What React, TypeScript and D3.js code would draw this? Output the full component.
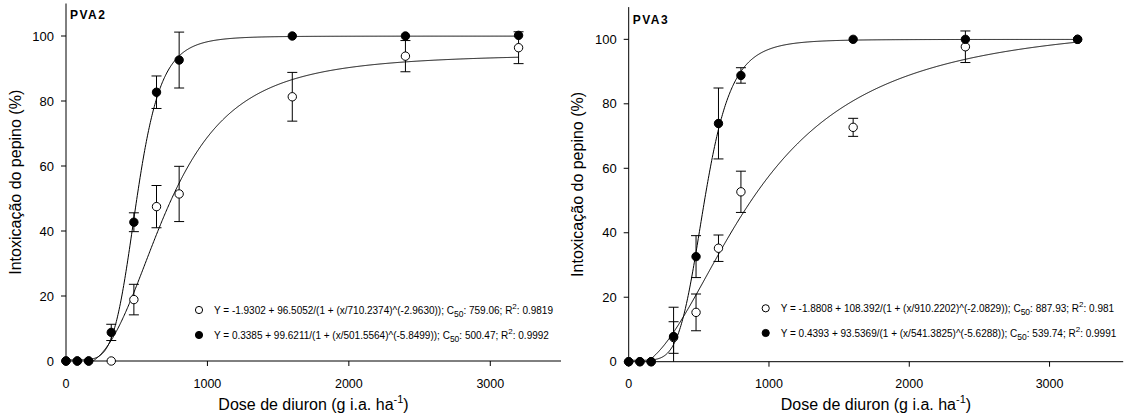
import React from "react";
import * as d3 from "d3";

// Doses of diuron (g i.a. ha-1)
const doses = [0, 80, 160, 320, 480, 640, 800, 1600, 2400, 3200];

// PVA2: open and filled series (mean ± error)
const pva2OpenMean = [0, 0, 0, 0, 18.9, 47.5, 51.4, 81.3, 93.8, 96.4];
const pva2OpenErr = [0, 0, 0, 0, 4.7, 6.5, 8.5, 7.5, 4.8, 4.9];
const pva2FilledMean = [0, 0, 0, 8.8, 42.7, 82.7, 92.6, 100, 100, 100.2];
const pva2FilledErr = [0, 0, 0, 2.5, 2.9, 5.0, 8.6, 0, 0, 0];

// PVA3: open and filled series (mean ± error)
const pva3OpenMean = [0, 0, 0, 7.5, 15.3, 35.2, 52.7, 72.7, 97.7, 100];
const pva3OpenErr = [0, 0, 0, 4.9, 5.7, 4.1, 6.4, 2.8, 4.9, 0];
const pva3FilledMean = [0, 0, 0, 7.8, 32.6, 73.9, 88.8, 100, 100, 100];
const pva3FilledErr = [0, 0, 0, 9.1, 6.5, 11.0, 2.4, 0, 0, 0];

// Four-parameter logistic fits: [y0, a, x0, b]
const pva2OpenFit = [-1.9302, 96.5052, 710.2374, -2.963];
const pva2FilledFit = [0.3385, 99.6211, 501.5564, -5.8499];
const pva3OpenFit = [-1.8808, 108.392, 910.2202, -2.0829];
const pva3FilledFit = [0.4393, 99.5369, 541.3825, -5.6288];

// Legend text: [equation, C50, R2]
const pva2OpenLegend = ["Y = -1.9302 + 96.5052/(1 + (x/710.2374)^(-2.9630))", "759.06", "0.9819"];
const pva2FilledLegend = ["Y = 0.3385 + 99.6211/(1 + (x/501.5564)^(-5.8499))", "500.47", "0.9992"];
const pva3OpenLegend = ["Y = -1.8808 + 108.392/(1 + (x/910.2202)^(-2.0829))", "887.93", "0.981"];
const pva3FilledLegend = ["Y = 0.4393 + 93.5369/(1 + (x/541.3825)^(-5.6288))", "539.74", "0.9991"];

const xTicks = [0, 1000, 2000, 3000];
const yTicks = [0, 20, 40, 60, 80, 100];

const FONT = "'Liberation Sans', Arial, Helvetica, sans-serif";

type Layout = {
  id: string;
  xLeft: number;
  xRight: number;
  xMax: number;
  yZero: number;
  yTop: number;
  yTitleX: number;
  labelY: number;
  legendX: number;
  legendY: number[];
};

type PanelProps = {
  layout: Layout;
  label: string;
  openMean: number[];
  openErr: number[];
  filledMean: number[];
  filledErr: number[];
  openFit: number[];
  filledFit: number[];
  openLegend: string[];
  filledLegend: string[];
};

const logistic = (p: number[]) => (x: number) => p[0] + p[1] / (1 + Math.pow(x / p[2], p[3]));

function LegendRow({ x, y, filled, text }: { x: number; y: number; filled: boolean; text: string[] }) {
  return (
    <g>
      <circle cx={x} cy={y} r={3.6} fill={filled ? "#000" : "#fff"} stroke="#000" strokeWidth={1} />
      <text x={x + 15} y={y + 3.6} fontSize={10} fontFamily={FONT} fill="#000">
        <tspan>{text[0]}; C</tspan>
        <tspan fontSize={8.5} dy={3}>50</tspan>
        <tspan dy={-3}>: {text[1]}; R</tspan>
        <tspan fontSize={8} dy={-5}>2</tspan>
        <tspan dy={5}>: {text[2]}</tspan>
      </text>
    </g>
  );
}

function Panel(props: PanelProps) {
  const { layout: L } = props;
  const x = d3.scaleLinear().domain([0, L.xMax]).range([L.xLeft, L.xRight]);
  const y = d3.scaleLinear().domain([0, 110]).range([L.yZero, L.yTop]);

  const xs = d3.range(0, 3200.001, 4);
  const line = d3
    .line<number[]>()
    .x((d) => x(d[0]))
    .y((d) => y(d[1]));
  const curvePath = (fit: number[]) => {
    const f = logistic(fit);
    return line(xs.map((v) => [v, f(v)])) || "";
  };

  const clipId = `clip-${L.id}`;
  const errorBars = (mean: number[], err: number[]) =>
    doses.map((dose, i) => {
      if (!err[i]) return null;
      const cx = x(dose);
      const top = y(mean[i] + err[i]);
      const bot = y(mean[i] - err[i]);
      return (
        <g key={i} stroke="#000" strokeWidth={1}>
          <line x1={cx} x2={cx} y1={top} y2={bot} />
          <line x1={cx - 5} x2={cx + 5} y1={top} y2={top} />
          <line x1={cx - 5} x2={cx + 5} y1={bot} y2={bot} />
        </g>
      );
    });

  const markers = (mean: number[], filled: boolean) =>
    doses.map((dose, i) => (
      <circle
        key={i}
        cx={x(dose)}
        cy={y(mean[i])}
        r={4.2}
        fill={filled ? "#000" : "#fff"}
        stroke="#000"
        strokeWidth={1}
      />
    ));

  const midX = (L.xLeft + L.xRight) / 2;
  const midY = (L.yZero + L.yTop) / 2;

  return (
    <g>
      <defs>
        <clipPath id={clipId}>
          <rect x={L.xLeft} y={L.yTop} width={L.xRight - L.xLeft} height={L.yZero - L.yTop} />
        </clipPath>
      </defs>

      {/* axes */}
      <line x1={L.xLeft} x2={L.xLeft} y1={L.yTop} y2={L.yZero} stroke="#000" strokeWidth={1} />
      <line x1={L.xLeft} x2={L.xRight} y1={L.yZero} y2={L.yZero} stroke="#000" strokeWidth={1} />
      {yTicks.map((t) => (
        <g key={`y${t}`}>
          <line x1={L.xLeft - 5} x2={L.xLeft} y1={y(t)} y2={y(t)} stroke="#000" strokeWidth={1} />
          <text
            x={L.xLeft - 12}
            y={y(t)}
            dy="0.36em"
            textAnchor="end"
            fontSize={13}
            fontFamily={FONT}
            fill="#000"
          >
            {t}
          </text>
        </g>
      ))}
      {xTicks.map((t) => (
        <g key={`x${t}`}>
          <line x1={x(t)} x2={x(t)} y1={L.yZero} y2={L.yZero + 5} stroke="#000" strokeWidth={1} />
          <text x={x(t)} y={L.yZero + 26.5} textAnchor="middle" fontSize={12.5} fontFamily={FONT} fill="#000">
            {t}
          </text>
        </g>
      ))}

      {/* axis titles */}
      <text x={midX} y={410} textAnchor="middle" fontSize={16} fontFamily={FONT} fill="#000">
        <tspan>Dose de diuron (g i.a. ha</tspan>
        <tspan fontSize={11} dy={-7}>-1</tspan>
        <tspan dy={7}>)</tspan>
      </text>
      <text
        transform={`translate(${L.yTitleX},${midY}) rotate(-90)`}
        textAnchor="middle"
        fontSize={16}
        fontFamily={FONT}
        fill="#000"
      >
        Intoxicação do pepino (%)
      </text>

      {/* panel label */}
      <text
        x={L.xLeft + 4}
        y={L.labelY}
        fontSize={12}
        fontWeight="bold"
        letterSpacing={1.5}
        fontFamily={FONT}
        fill="#000"
      >
        {props.label}
      </text>

      {/* fitted curves and error bars */}
      <g clipPath={`url(#${clipId})`}>
        <path d={curvePath(props.openFit)} fill="none" stroke="#000" strokeWidth={1} />
        <path d={curvePath(props.filledFit)} fill="none" stroke="#000" strokeWidth={1} />
        {errorBars(props.openMean, props.openErr)}
        {errorBars(props.filledMean, props.filledErr)}
      </g>

      {/* observed means */}
      {markers(props.openMean, false)}
      {markers(props.filledMean, true)}

      {/* legend */}
      <LegendRow x={L.legendX} y={L.legendY[0]} filled={false} text={props.openLegend} />
      <LegendRow x={L.legendX} y={L.legendY[1]} filled={true} text={props.filledLegend} />
    </g>
  );
}

const leftLayout: Layout = {
  id: "pva2",
  xLeft: 66,
  xRight: 561,
  xMax: 3500,
  yZero: 361,
  yTop: 3.5,
  yTitleX: 21,
  labelY: 19.3,
  legendX: 199,
  legendY: [310, 335],
};

const rightLayout: Layout = {
  id: "pva3",
  xLeft: 628.7,
  xRight: 1123.2,
  xMax: 3525,
  yZero: 361.7,
  yTop: 7.1,
  yTitleX: 583,
  labelY: 24,
  legendX: 765.7,
  legendY: [308.3, 333],
};

export default function App() {
  return (
    <div style={{ position: "absolute", left: 0, top: 0 }}>
      <svg width={1124} height={420} style={{ display: "block", background: "#fff" }}>
        <Panel
          layout={leftLayout}
          label="PVA2"
          openMean={pva2OpenMean}
          openErr={pva2OpenErr}
          filledMean={pva2FilledMean}
          filledErr={pva2FilledErr}
          openFit={pva2OpenFit}
          filledFit={pva2FilledFit}
          openLegend={pva2OpenLegend}
          filledLegend={pva2FilledLegend}
        />
        <Panel
          layout={rightLayout}
          label="PVA3"
          openMean={pva3OpenMean}
          openErr={pva3OpenErr}
          filledMean={pva3FilledMean}
          filledErr={pva3FilledErr}
          openFit={pva3OpenFit}
          filledFit={pva3FilledFit}
          openLegend={pva3OpenLegend}
          filledLegend={pva3FilledLegend}
        />
      </svg>
    </div>
  );
}
